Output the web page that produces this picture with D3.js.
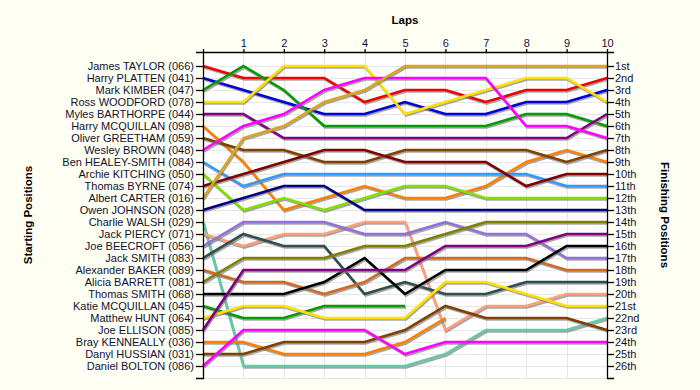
<!DOCTYPE html>
<html><head><meta charset="utf-8">
<script src="https://cdn.jsdelivr.net/npm/d3@7"></script>
<style>
html,body{margin:0;padding:0;background:#fffff4;}
svg{display:block;font-family:"Liberation Sans",Arial,sans-serif;}
</style></head>
<body>
<svg id="chart" width="700" height="390"></svg>
<script>
// ---- data ----
const lapTicks = [1,2,3,4,5,6,7,8,9,10];
const drivers = [
  "James TAYLOR (066)","Harry PLATTEN (041)","Mark KIMBER (047)","Ross WOODFORD (078)",
  "Myles BARTHORPE (044)","Harry MCQUILLAN (098)","Oliver GREETHAM (059)","Wesley BROWN (048)",
  "Ben HEALEY-SMITH (084)","Archie KITCHING (050)","Thomas BYRNE (074)","Albert CARTER (016)",
  "Owen JOHNSON (028)","Charlie WALSH (029)","Jack PIERCY (071)","Joe BEECROFT (056)",
  "Jack SMITH (083)","Alexander BAKER (089)","Alicia BARRETT (081)","Thomas SMITH (068)",
  "Katie MCQUILLAN (045)","Matthew HUNT (064)","Joe ELLISON (085)","Bray KENNEALLY (036)",
  "Danyl HUSSIAN (031)","Daniel BOLTON (086)"
];
// position of each driver after laps 0..10 (null = retired)
const positions = [
  [1,2,2,2,4,3,3,4,3,3,2],
  [2,3,4,5,5,4,5,5,4,4,3],
  [3,1,3,6,6,6,6,6,5,5,6],
  [4,4,1,1,1,5,4,3,2,2,4],
  [5,5,7,7,7,7,7,7,7,7,5],
  [6,9,13,12,11,12,12,11,9,8,9],
  [7,8,8,9,9,8,8,8,8,9,8],
  [8,6,5,3,2,2,2,2,6,6,7],
  [9,11,10,10,10,10,10,10,10,11,11],
  [10,13,12,13,12,11,11,12,12,12,12],
  [11,10,9,8,8,9,9,9,11,10,10],
  [12,7,6,4,3,1,1,1,1,1,1],
  [13,12,11,11,13,13,13,13,13,13,13],
  [14,26,26,26,26,26,25,23,23,23,22],
  [15,16,15,15,14,14,23,21,21,20,20],
  [16,14,14,14,15,15,14,15,15,17,17],
  [17,15,16,16,20,19,20,20,19,19,19],
  [18,19,19,20,19,17,17,17,17,18,18],
  [19,17,17,17,16,16,15,14,14,14,14],
  [20,20,20,19,17,20,18,18,18,16,16],
  [21,22,22,21,21,21,null,null,null,null,null],
  [22,21,21,22,22,22,19,19,20,21,21],
  [23,18,18,18,18,18,16,16,16,15,15],
  [24,24,25,25,25,24,22,null,null,null,null],
  [25,25,24,24,24,23,21,22,22,22,23],
  [26,23,23,23,23,25,24,24,24,24,24]
];
const finishLabels = ["1st","2nd","3rd","4th","5th","6th","7th","8th","9th","10th","11th","12th","13th",
  "14th","15th","16th","17th","18th","19th","20th","21st","22nd","23rd","24th","25th","26th"];
const colors = ["#ee0000","#0000dd","#009c00","#ffe000","#800080","#ff8000","#804000","#ff00ff",
  "#3399ff","#80e000","#800000","#daa520","#000080","#66c8a8","#ffa07a","#9370db",
  "#2f4f4f","#d2691e","#808000","#000000","#009c00","#ffe000","#800080","#ff8000","#804000","#ff00ff"];

// ---- layout ----
const svg = d3.select("#chart");
const x = d3.scaleLinear().domain([0,10]).range([203,607]);
const y = d3.scaleLinear().domain([-1/6,27]).range([52,378]);
const rows = d3.range(1,27);
const textCol = "#111133";

svg.append("rect").attr("x",x(0)).attr("y",y.range()[0])
  .attr("width",x(10)-x(0)).attr("height",y.range()[1]-y.range()[0]).attr("fill","#ffffff");

// grid
const grid = svg.append("g").attr("stroke","#e6e6e6").attr("stroke-width",1);
grid.selectAll("line.h").data(rows.concat([27])).join("line")
  .attr("x1",x(0)).attr("x2",x(10)).attr("y1",d=>Math.round(y(d))+0.5).attr("y2",d=>Math.round(y(d))+0.5);
grid.selectAll("line.v").data(d3.range(1,10)).join("line")
  .attr("x1",d=>Math.round(x(d))+0.5).attr("x2",d=>Math.round(x(d))+0.5)
  .attr("y1",y.range()[0]).attr("y2",y.range()[1]);

// lines
const line = d3.line().defined(d=>d!=null).x((d,i)=>x(i)).y(d=>y(d));
const series = svg.append("g");
positions.forEach((p,i)=>{
  series.append("path").attr("d",line(p)).attr("fill","none")
    .attr("stroke","#777").attr("stroke-opacity",0.65).attr("stroke-width",2.5)
    .attr("stroke-linejoin","miter").attr("transform","translate(1,1.6)");
  series.append("path").attr("d",line(p)).attr("fill","none")
    .attr("stroke",colors[i]).attr("stroke-width",2.6).attr("stroke-linejoin","miter");
});

// axes
function styleAxis(g){
  g.selectAll("path,line").attr("stroke","#000").attr("stroke-width",1.3);
  g.selectAll("text").attr("fill",textCol).style("font-size","11px");
}
svg.append("g").attr("transform",`translate(${x(0)},0)`)
  .call(d3.axisLeft(y).tickValues(rows).tickFormat(d=>drivers[d-1]).tickSize(7).tickSizeOuter(7).tickPadding(2))
  .call(styleAxis).call(g=>g.attr("font-family",null));
svg.append("g").attr("transform",`translate(${x(10)},0)`)
  .call(d3.axisRight(y).tickValues(rows).tickFormat(d=>finishLabels[d-1]).tickSize(7).tickSizeOuter(7).tickPadding(1))
  .call(styleAxis).call(g=>g.attr("font-family",null));
svg.append("g").attr("transform",`translate(0,${y.range()[0]})`)
  .call(d3.axisTop(x).tickValues([0].concat(lapTicks)).tickFormat(d=>d===0?"":d).tickSize(3).tickSizeOuter(0).tickPadding(2))
  .call(styleAxis).call(g=>g.attr("font-family",null));

// titles
svg.append("text").attr("x",(x(0)+x(10))/2).attr("y",24).attr("text-anchor","middle")
  .attr("font-weight","bold").attr("font-size","11.5px").attr("fill","#000").text("Laps");
svg.append("text").attr("transform",`translate(28,${(y.range()[0]+y.range()[1])/2}) rotate(-90)`)
  .attr("text-anchor","middle").attr("dy","0.35em")
  .attr("font-weight","bold").attr("font-size","11.5px").attr("fill","#000").text("Starting Positions");
svg.append("text").attr("transform",`translate(665,${(y.range()[0]+y.range()[1])/2}) rotate(90)`)
  .attr("text-anchor","middle").attr("dy","0.35em")
  .attr("font-weight","bold").attr("font-size","11.5px").attr("fill","#000").text("Finishing Positions");
</script>
</body></html>
